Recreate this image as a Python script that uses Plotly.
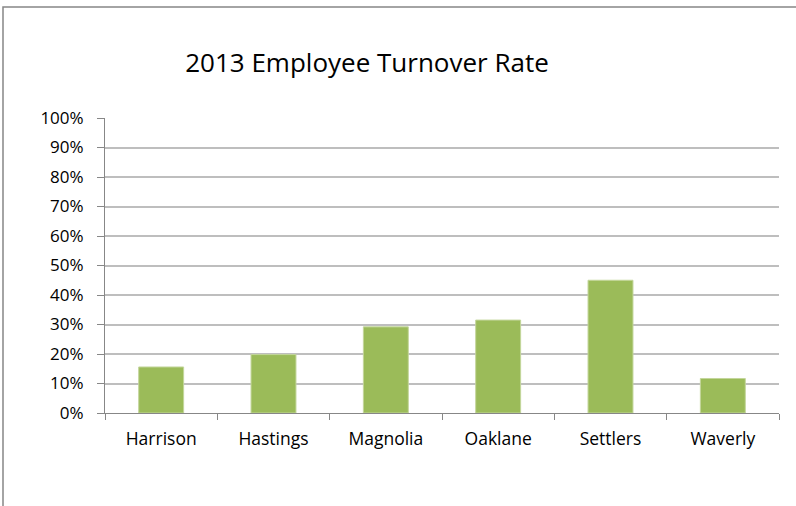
import plotly.graph_objects as go

categories = ["Harrison", "Hastings", "Magnolia", "Oaklane", "Settlers", "Waverly"]
turnover = [0.156, 0.198, 0.292, 0.315, 0.450, 0.117]
y_ticks = [i / 10 for i in range(11)]

FONT = "'Open Sans', sans-serif"

fig = go.Figure(go.Bar(
    x=categories, y=turnover,
    marker=dict(color="#9BBB59", line=dict(color="#C3D69B", width=1)),
    width=0.4,
))

W, H = 796, 506
l, r, t, b = 105, 17, 118, 93
pw, ph = W - l - r, H - t - b

fig.update_layout(
    width=W, height=H,
    margin=dict(l=l, r=r, t=t, b=b),
    paper_bgcolor="white", plot_bgcolor="white",
    font=dict(family=FONT, size=16, color="#000000"),
    title=dict(text="2013 Employee Turnover Rate", x=367 / W, xanchor="center",
               y=1 - 63 / H, yanchor="middle", font=dict(size=26, family=FONT)),
    showlegend=False,
    bargap=0.6,
    xaxis=dict(
        showline=True, linecolor="#878787", linewidth=1,
        ticks="outside", tickson="boundaries", ticklen=6, tickcolor="#878787",
        showgrid=False, tickfont=dict(size=17.5), ticklabelstandoff=10,
    ),
    yaxis=dict(
        range=[0, 1], tickvals=y_ticks, tickformat=".0%",
        showline=True, linecolor="#878787", linewidth=1,
        ticks="outside", ticklen=7, tickcolor="#878787",
        showgrid=True, gridcolor="#BEBEBE", gridwidth=1.5,
        tickfont=dict(size=17), zeroline=False, ticklabelstandoff=10,
    ),
    shapes=[dict(
        type="rect", xref="paper", yref="paper",
        x0=(3 - l) / pw, x1=(W + 10 - l) / pw,
        y0=-(H + 10 - t - ph) / ph, y1=1 + (t - 7) / ph,
        line=dict(color="#878787", width=1.5), fillcolor="rgba(0,0,0,0)",
        layer="below",
    )],
)

fig.write_html("out.html", config={"displayModeBar": False},
               post_script="document.body.style.margin='0';")
